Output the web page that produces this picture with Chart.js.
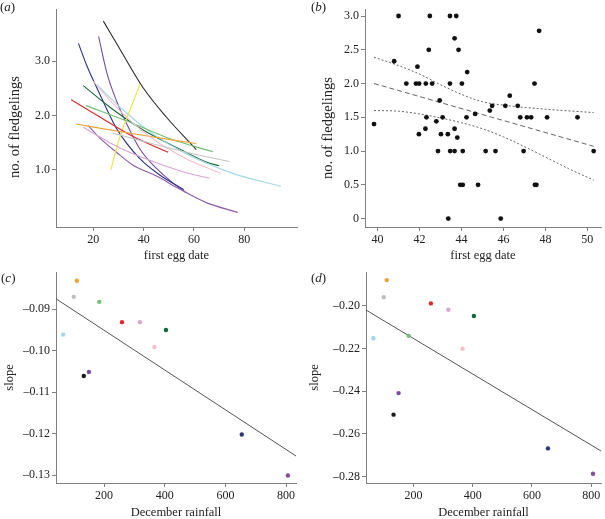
<!DOCTYPE html>
<html>
<head>
<meta charset="utf-8">
<script src="https://cdn.jsdelivr.net/npm/chart.js@4"></script>
<style>
body { margin:0; width:605px; height:519px; background:#fff; position:relative; overflow:hidden; font-family:"Liberation Serif", serif; }
canvas { position:absolute; }
.lab { position:absolute; font-size:13px; line-height:14px; color:#222; }
</style>
</head>
<body>
<canvas id="chartA" width="300" height="268" style="left:0;top:0"></canvas>
<canvas id="chartB" width="305" height="268" style="left:300px;top:0"></canvas>
<canvas id="chartC" width="300" height="257" style="left:0;top:262px"></canvas>
<canvas id="chartD" width="305" height="257" style="left:300px;top:262px"></canvas>
<div class="lab" style="left:0;top:0">(<i>a</i>)</div>
<div class="lab" style="left:311px;top:0">(<i>b</i>)</div>
<div class="lab" style="left:1px;top:271px">(<i>c</i>)</div>
<div class="lab" style="left:311px;top:271px">(<i>d</i>)</div>
<script>
// (a) fitted curves per year: [first egg date, no. of fledgelings]
const curveBlack = [[24, 3.74], [30.6, 3.22], [39.8, 2.51], [49, 1.97], [60.9, 1.37]];
const curveNavy = [[14.1, 3.33], [17.4, 2.92], [22.6, 2.39], [29.2, 1.76], [38.5, 1.2], [46.4, 0.9], [56, 0.63]];
const curvePurpleA = [[22.1, 3.46], [25.3, 2.8], [29.2, 2.27], [33.2, 1.85], [38.5, 1.38], [45.1, 1.02], [51.7, 0.75], [57, 0.57]];
const curvePurpleB = [[18, 1.81], [22.6, 1.58], [29.2, 1.32], [35.8, 1.08], [45.1, 0.88], [54.3, 0.64], [64.9, 0.39], [77.4, 0.21]];
const curveRed = [[11.2, 2.29], [22.6, 1.97], [35.8, 1.61], [49.7, 1.32]];
const curveOrange = [[13.1, 1.84], [35.8, 1.66], [60.9, 1.48]];
const curveGreen = [[17.1, 2.18], [35.8, 1.85], [51.7, 1.55], [67.5, 1.33]];
const curveDarkGreen = [[16, 2.55], [26.6, 2.15], [39.8, 1.73], [54.3, 1.38], [64.9, 1.14], [70, 1.07]];
const curveCyan = [[21.3, 2.57], [30.6, 2.15], [42.4, 1.7], [56.9, 1.29], [75.4, 0.93], [94.5, 0.69]];
const curveLightPink = [[20, 2.63], [29.2, 2.15], [42.4, 1.61], [56.9, 1.2], [70.8, 0.93]];
const curveOrchid = [[16, 1.78], [29.2, 1.43], [42.4, 1.17], [55.6, 0.96], [66.2, 0.84]];
const curveGray = [[27.9, 1.67], [42.4, 1.49], [56.9, 1.32], [74.1, 1.15]];
const curveYellow = [[27, 1.0], [30.6, 1.61], [34.5, 2.09], [38.5, 2.57]];

// (b) nests: first egg date and fledgelings
const eggDate = [39.83, 40.79, 41.0, 41.37, 41.9, 41.83, 41.98, 41.97, 42.44, 42.49, 42.3, 42.6, 42.33, 42.28,
  42.8, 42.96, 42.88, 43.02, 43.1, 43.45, 43.75, 43.67, 43.86, 43.45, 44.02, 44.27, 43.35, 43.8, 43.67, 43.46,
  43.67, 44.06, 44.24, 43.94, 44.06, 43.37, 44.65, 44.79, 45.15, 45.35, 45.46, 45.62, 45.87, 46.09, 46.3, 46.68,
  46.8, 46.96, 47.12, 47.32, 47.48, 47.5, 47.57, 47.7, 48.08, 49.53, 50.3];
const fledgelings = [1.4, 2.33, 3.0, 2.0, 2.25, 2.0, 2.0, 1.25, 2.5, 3.0, 2.0, 2.0, 1.5, 1.33,
  1.44, 1.75, 1.0, 1.25, 1.5, 3.0, 3.0, 2.67, 2.5, 2.0, 2.0, 2.17, 1.25, 1.2, 1.33, 1.0,
  1.0, 1.0, 1.5, 0.5, 0.5, 0.0, 1.55, 0.5, 1.0, 1.6, 1.67, 1.0, 0.0, 1.67, 1.82, 1.67,
  1.5, 1.0, 1.5, 1.5, 2.0, 0.5, 0.5, 2.78, 1.5, 1.5, 1.0];
const fitB = [[39.83, 2.0], [50.3, 1.07]];
const upperB = [[39.83, 2.39], [41.05, 2.26], [42, 2.14], [42.95, 1.99], [44, 1.84], [45, 1.73], [46, 1.68], [48, 1.62], [50.3, 1.57]];
const lowerB = [[39.83, 1.6], [41, 1.59], [42, 1.55], [43, 1.49], [44, 1.42], [45, 1.33], [46, 1.21], [47.1, 1.05], [48, 0.91], [49.1, 0.74], [50.3, 0.57]];

// (c), (d) slopes per year against December rainfall
const rainfall = [65, 100, 110, 133, 150, 184, 259, 318, 366, 404, 654, 806];
const slopeC = [-0.0961, -0.087, -0.0831, -0.1061, -0.1051, -0.0882, -0.0931, -0.0931, -0.0991, -0.095, -0.1202, -0.1301];
const slopeD = [-0.2152, -0.196, -0.188, -0.251, -0.2409, -0.2141, -0.1989, -0.2019, -0.2201, -0.2048, -0.2668, -0.2787];
const fitC = [[38, -0.0873], [833, -0.1254]];
const fitD = [[34, -0.2015], [845, -0.269]];

const ticksAx = [20, 40, 60, 80];
const ticksAy = [1, 2, 3];
const ticksBx = [40, 42, 44, 46, 48, 50];
const ticksBy = [0, 0.5, 1, 1.5, 2, 2.5, 3];
const ticksCDx = [200, 400, 600, 800];
const ticksCy = [-0.13, -0.12, -0.11, -0.1, -0.09];
const ticksDy = [-0.28, -0.26, -0.24, -0.22, -0.2];

// colours
const curves = [curveGray, curveOrchid, curveLightPink, curveOrange, curveRed, curveGreen, curveYellow,
  curveCyan, curveDarkGreen, curvePurpleB, curveBlack, curveNavy, curvePurpleA];
const curveColors = ['#c4c4c4', '#dca3d4', '#f5bfcb', '#f0a232', '#e2262b', '#72c073', '#f3e33c',
  '#9fd8e6', '#1a6a3a', '#8f5cb0', '#2b2b2b', '#2a3480', '#7a4aa6'];
const dotColors = ['#9fd8e6', '#bdbdbd', '#f0a232', '#1a1a1a', '#7a4aa6', '#72c073', '#e2262b',
  '#dca3d4', '#f5bfcb', '#0f6a3a', '#2a3480', '#8a4a9e'];

const FONT = 'Liberation Serif';
const AXIS = '#808080';
const INK = '#222';

const toXY = arr => arr.map(p => ({x: p[0], y: p[1]}));

function scale(min, max, ticks, fmt, fit) {
    return {
        type: 'linear',
        min: min,
        max: max,
        afterBuildTicks: s => { s.ticks = ticks.map(v => ({value: v})); },
        afterFit: fit,
        ticks: {
            callback: fmt,
            font: {family: FONT, size: 12},
            color: INK,
            padding: 2,
            autoSkip: false,
            maxRotation: 0
        },
        grid: {display: true, drawOnChartArea: false, drawTicks: true, tickLength: 4, color: AXIS},
        border: {display: true, color: AXIS, width: 1}
    };
}

function xTitle(text, bottom) {
    return {display: true, text: text, color: INK, font: {family: FONT, size: 12.5, lineHeight: 1.2}, padding: {top: 0, bottom: bottom}};
}

const yTitlePlugin = {
    id: 'yTitle',
    afterDraw(chart, args, opts) {
        const ctx = chart.ctx;
        ctx.save();
        ctx.translate(opts.x, opts.y);
        ctx.rotate(-Math.PI / 2);
        ctx.font = opts.size + 'px "' + FONT + '"';
        ctx.fillStyle = INK;
        ctx.textAlign = 'center';
        ctx.textBaseline = 'middle';
        ctx.fillText(opts.text, 0, 0);
        ctx.restore();
    }
};

const dash = v => '\u2013' + Math.abs(v).toFixed(2);

function baseOptions(padding, xs, ys, yt) {
    return {
        responsive: false,
        animation: false,
        devicePixelRatio: 1,
        events: [],
        layout: {padding: padding},
        scales: {x: xs, y: ys},
        plugins: {legend: {display: false}, tooltip: {enabled: false}, yTitle: yt}
    };
}

// (a)
const xsA = scale(5.18, 100.94, ticksAx, v => v, s => { s.height = 41; });
xsA.title = xTitle('first egg date', 4.5);
new Chart(document.getElementById('chartA'), {
    type: 'scatter',
    data: {
        datasets: curves.map((c, i) => ({
            data: toXY(c),
            showLine: true,
            borderColor: curveColors[i],
            borderWidth: 1.1,
            pointRadius: 0,
            cubicInterpolationMode: 'monotone'
        }))
    },
    options: baseOptions({left: 0, right: 3, top: 2, bottom: 0}, xsA,
        scale(-0.06, 3.96, ticksAy, v => v.toFixed(1), s => { s.width = 56; }),
        {x: 15, y: 127, size: 14.5, text: 'no. of fledgelings'}),
    plugins: [yTitlePlugin]
});

// (b)
const xsB = scale(39.4, 50.65, ticksBx, v => v, s => { s.height = 41; });
xsB.title = xTitle('first egg date', 4.5);
const bandLine = (d, pattern, w) => ({
    data: toXY(d), showLine: true, borderColor: '#555', borderWidth: w, borderDash: pattern,
    pointRadius: 0, cubicInterpolationMode: 'monotone'
});
new Chart(document.getElementById('chartB'), {
    type: 'scatter',
    data: {
        datasets: [
            {data: eggDate.map((x, i) => ({x: x, y: fledgelings[i]})), backgroundColor: '#111', borderWidth: 0, pointRadius: 2.4},
            bandLine(fitB, [5, 3], 0.9),
            bandLine(upperB, [2, 2], 0.9),
            bandLine(lowerB, [2, 2], 0.9)
        ]
    },
    options: baseOptions({left: 0, right: 2, top: 3, bottom: 0}, xsB,
        scale(-0.125, 3.101, ticksBy, v => v === 0 ? '0' : v.toFixed(1), s => { s.width = 65; }),
        {x: 28, y: 128, size: 14.5, text: 'no. of fledgelings'}),
    plugins: [yTitlePlugin]
});

// (c) and (d)
function slopeChart(id, slopes, fit, ymin, ymax, yticks, yw, padRight, tx) {
    const xs = scale(yw === 56 ? 41.4 : 40, yw === 56 ? 832.8 : 833, ticksCDx, v => v, s => { s.height = 36; });
    xs.title = xTitle('December rainfall', 0);
    xs.title.font.lineHeight = 1.0;
    new Chart(document.getElementById(id), {
        type: 'scatter',
        data: {
            datasets: [
                {data: rainfall.map((x, i) => ({x: x, y: slopes[i]})), backgroundColor: dotColors, borderWidth: 0, pointRadius: 2.2},
                {data: toXY(fit), showLine: true, borderColor: '#555', borderWidth: 1, pointRadius: 0}
            ]
        },
        options: baseOptions({left: 0, right: padRight, top: 10, bottom: 0}, xs,
            scale(ymin, ymax, yticks, dash, s => { s.width = yw; }),
            {x: tx, y: 115.5, size: 12.5, text: 'slope'}),
        plugins: [yTitlePlugin]
    });
}
slopeChart('chartC', slopeC, fitC, -0.1319, -0.081, ticksCy, 56, 3, 10);
slopeChart('chartD', slopeD, fitD, -0.283, -0.1842, ticksDy, 66, 1, 15);
</script>
</body>
</html>
